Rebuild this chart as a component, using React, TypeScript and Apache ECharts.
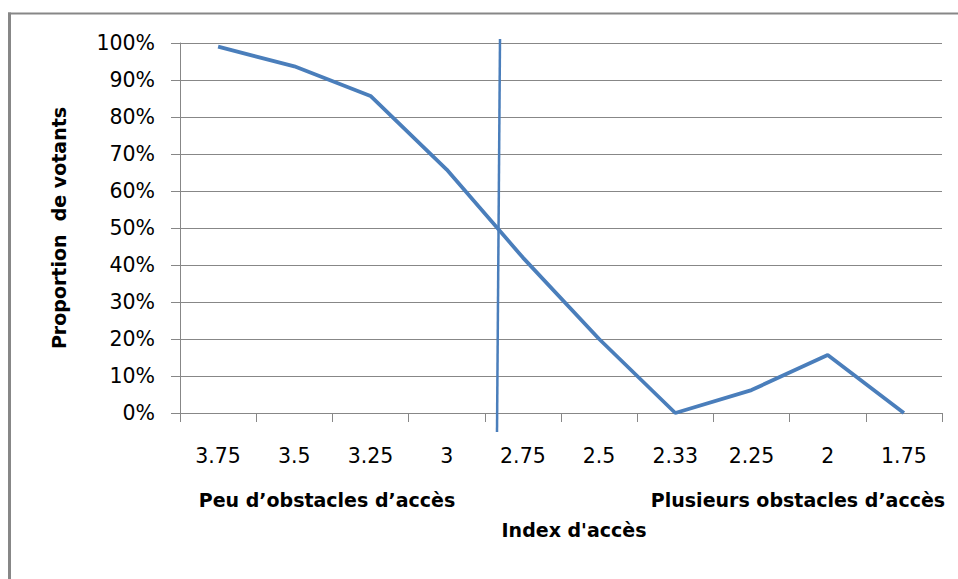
import React, { useEffect, useRef } from "react";
import * as echarts from "echarts";

const categories = ["3.75", "3.5", "3.25", "3", "2.75", "2.5", "2.33", "2.25", "2", "1.75"];
const voterShare = [0.99, 0.937, 0.857, 0.658, 0.42, 0.2, 0.0, 0.062, 0.157, 0.0];
const yTicks = { min: 0, max: 1, interval: 0.1 };
const yAxisName = "Proportion  de votants";
const xAxisName = "Index d'accès";
const leftNote = "Peu d’obstacles d’accès";
const rightNote = "Plusieurs obstacles d’accès";

const FONT = "DejaVu Sans";
const BLUE = "#4A7EBB";
const GREY = "#878787";

export default function App() {
  const ref = useRef<HTMLDivElement>(null);

  useEffect(() => {
    if (!ref.current) return;
    const chart = echarts.init(ref.current, null, { renderer: "svg" });
    chart.setOption({
      animation: false,
      backgroundColor: "#ffffff",
      grid: { left: 180, right: 16, top: 43, bottom: 166, containLabel: false },
      xAxis: {
        type: "category",
        data: categories,
        boundaryGap: true,
        name: xAxisName,
        nameLocation: "middle",
        nameGap: 107,
        nameTextStyle: {
          fontFamily: FONT,
          fontSize: 19,
          fontWeight: "bold",
          color: "#000",
          padding: [0, 0, 0, 26],
        },
        axisLine: { show: true, lineStyle: { color: GREY, width: 1 } },
        axisTick: { show: true, length: 9, lineStyle: { color: GREY } },
        axisLabel: {
          fontFamily: FONT,
          fontSize: 20.5,
          color: "#000",
          margin: 32,
          interval: 0,
        },
        splitLine: { show: false },
      },
      yAxis: {
        type: "value",
        min: yTicks.min,
        max: yTicks.max,
        interval: yTicks.interval,
        name: yAxisName,
        nameLocation: "middle",
        nameGap: 112,
        nameRotate: 90,
        nameTextStyle: {
          fontFamily: FONT,
          fontSize: 19,
          fontWeight: "bold",
          color: "#000",
        },
        axisLine: { show: true, lineStyle: { color: GREY, width: 1 } },
        axisTick: { show: true, length: 9, lineStyle: { color: GREY } },
        axisLabel: {
          fontFamily: FONT,
          fontSize: 20.5,
          color: "#000",
          margin: 25,
          formatter: (v: number) => Math.round(v * 100) + "%",
        },
        splitLine: { show: true, lineStyle: { color: GREY, width: 1 } },
      },
      series: [
        {
          type: "line",
          data: voterShare,
          showSymbol: false,
          symbol: "none",
          smooth: false,
          lineStyle: { color: BLUE, width: 3.8 },
          itemStyle: { color: BLUE },
        },
      ],
      graphic: [
        {
          type: "line",
          shape: { x1: 8, y1: 13.5, x2: 958, y2: 13.5 },
          style: { stroke: GREY, lineWidth: 2 },
          silent: true,
        },
        {
          type: "line",
          shape: { x1: 9.5, y1: 12.5, x2: 9.5, y2: 579 },
          style: { stroke: GREY, lineWidth: 3 },
          silent: true,
        },
        {
          type: "line",
          shape: { x1: 500, y1: 39, x2: 497, y2: 432 },
          style: { stroke: BLUE, lineWidth: 2.5 },
          silent: true,
          z: 10,
        },
        {
          type: "text",
          x: 327,
          y: 500,
          style: {
            text: leftNote,
            fontFamily: FONT,
            fontSize: 19,
            fontWeight: "bold",
            fill: "#000",
            align: "center",
            verticalAlign: "middle",
          },
        },
        {
          type: "text",
          x: 798,
          y: 500,
          style: {
            text: rightNote,
            fontFamily: FONT,
            fontSize: 19,
            fontWeight: "bold",
            fill: "#000",
            align: "center",
            verticalAlign: "middle",
          },
        },
      ],
    });
    return () => chart.dispose();
  }, []);

  return (
    <div
      ref={ref}
      style={{ position: "fixed", left: 0, top: 0, width: 958, height: 579 }}
    />
  );
}
